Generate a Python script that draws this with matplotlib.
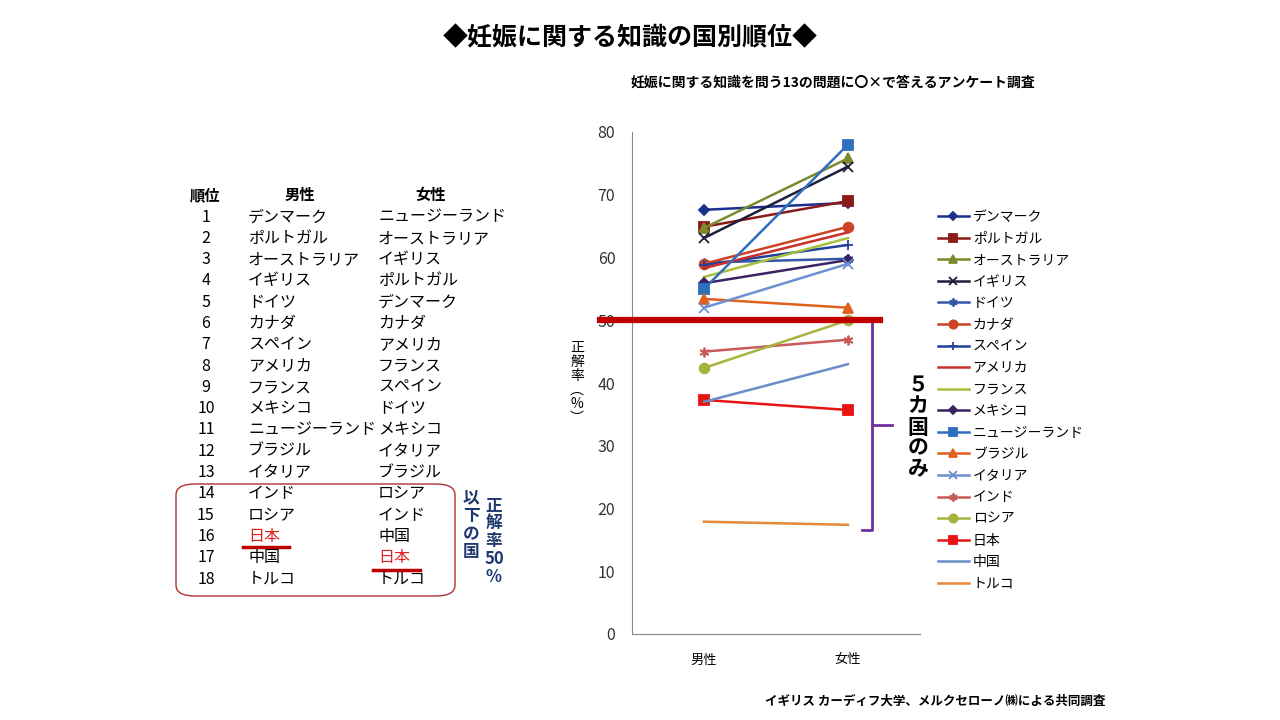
import matplotlib.pyplot as plt
from matplotlib.patches import FancyBboxPatch

plt.rcParams['font.family'] = ['Noto Sans CJK JP', 'DejaVu Sans']

# データ（正解率 %）
countries = ['デンマーク', 'ポルトガル', 'オーストラリア', 'イギリス', 'ドイツ', 'カナダ',
             'スペイン', 'アメリカ', 'フランス', 'メキシコ', 'ニュージーランド', 'ブラジル',
             'イタリア', 'インド', 'ロシア', '日本', '中国', 'トルコ']
male = [67.6, 64.9, 64.7, 63.1, 59.2, 59.0, 58.8, 58.3, 56.9, 55.9, 55.0, 53.4,
        52.0, 45.0, 42.4, 37.3, 37.0, 17.9]
female = [68.7, 69.0, 75.8, 74.5, 59.8, 64.9, 62.0, 64.0, 63.1, 59.6, 78.0, 52.0,
          59.0, 46.9, 50.0, 35.7, 43.0, 17.4]
genders = ['男性', '女性']
threshold = 50

# 順位表
rank_male = ['デンマーク', 'ポルトガル', 'オーストラリア', 'イギリス', 'ドイツ', 'カナダ',
             'スペイン', 'アメリカ', 'フランス', 'メキシコ', 'ニュージーランド', 'ブラジル',
             'イタリア', 'インド', 'ロシア', '日本', '中国', 'トルコ']
rank_female = ['ニュージーランド', 'オーストラリア', 'イギリス', 'ポルトガル', 'デンマーク', 'カナダ',
               'アメリカ', 'フランス', 'スペイン', 'ドイツ', 'メキシコ', 'イタリア',
               'ブラジル', 'ロシア', 'インド', '中国', '日本', 'トルコ']

colors = ['#1c2f8c', '#8b1a1a', '#7a8a2c', '#1e1e3c', '#3356a8', '#cc4426',
          '#22409a', '#c8302a', '#a6c040', '#3c2262', '#2f6fc0', '#e0601e',
          '#6c90d0', '#c85a5a', '#a8b23e', '#e81414', '#6a8cc8', '#e8883a']
markers = ['D', 's', '^', 'x', (6, 2, 0), 'o', '+', None, None, 'D', 's', '^',
           'x', (6, 2, 0), 'o', 's', None, None]


def fx(px):
    return px / 1280


def fy(py):
    return 1 - py / 720


fig = plt.figure(figsize=(12.8, 7.2), dpi=100)
ax = fig.add_axes([fx(632), fy(634), 288 / 1280, 502 / 720])

for i, name in enumerate(countries):
    ms = 5 if markers[i] == 'D' else 7
    ax.plot([0, 1], [male[i], female[i]], color=colors[i], marker=markers[i],
            ms=ms, mew=1.3, lw=1.8, label=name)

ax.set_xlim(-0.5, 1.5)
ax.set_ylim(0, 80)
ax.set_yticks(range(0, 81, 10))
ax.set_xticks([0, 1])
ax.set_xticklabels(genders, fontsize=9.5)
ax.tick_params(axis='y', length=0, pad=12, labelsize=11.5, labelcolor='#333333')
ax.tick_params(axis='x', length=0, pad=14)
for s in ['top', 'right']:
    ax.spines[s].set_visible(False)
for s in ['left', 'bottom']:
    ax.spines[s].set_color('#888888')

# 50% ライン
ax.plot([-0.722, 1.222], [threshold, threshold], color='#c00000', lw=4.5,
        clip_on=False, zorder=5)

# 括弧
ax.plot([1.097, 1.167, 1.167, 1.097], [threshold, threshold, 16.6, 16.6],
        color='#7030a0', lw=2, clip_on=False)
ax.plot([1.167, 1.306], [33.3, 33.3], color='#7030a0', lw=2, clip_on=False)
fig.text(fx(918), fy(427), '５\nカ\n国\nの\nみ', ha='center', va='center',
         fontsize=15, fontweight='bold', linespacing=1.0)

leg = ax.legend(loc='upper left', bbox_to_anchor=(fx(938), fy(210)),
                bbox_transform=fig.transFigure, frameon=False, fontsize=10,
                labelspacing=0.545, handlelength=2.2, handletextpad=0.3,
                borderpad=0, borderaxespad=0, markerscale=0.85)

# 縦軸ラベル
fig.text(fx(577), fy(383), '正\n解\n率\n︵\n%\n︶', ha='center', va='center',
         fontsize=10, linespacing=1.0)

# タイトル
fig.text(fx(630), fy(38), '◆妊娠に関する知識の国別順位◆', ha='center', va='center',
         fontsize=18, fontweight='bold')
fig.text(fx(833), fy(83), '妊娠に関する知識を問う13の問題に〇×で答えるアンケート調査',
         ha='center', va='center', fontsize=10, fontweight='bold')
fig.text(fx(1105), fy(701), 'イギリス カーディフ大学、メルクセローノ㈱による共同調査',
         ha='right', va='center', fontsize=9, fontweight='bold')

# 順位表
fig.text(fx(205), fy(195), '順位', ha='center', va='center', fontsize=11, fontweight='bold')
fig.text(fx(300), fy(195), '男性', ha='center', va='center', fontsize=11, fontweight='bold')
fig.text(fx(431), fy(195), '女性', ha='center', va='center', fontsize=11, fontweight='bold')
for r in range(18):
    y = 217 + r * 21.3
    fig.text(fx(206), fy(y), str(r + 1), ha='center', va='center', fontsize=11.5)
    cm = '#e02020' if rank_male[r] == '日本' else 'black'
    cf = '#e02020' if rank_female[r] == '日本' else 'black'
    fig.text(fx(248), fy(y), rank_male[r], ha='left', va='center', fontsize=11.5, color=cm)
    fig.text(fx(378), fy(y), rank_female[r], ha='left', va='center', fontsize=11.5, color=cf)

# 日本の下線
fig.add_artist(plt.Line2D([fx(243), fx(289)], [fy(547), fy(547)], color='#c00000', lw=2.5))
fig.add_artist(plt.Line2D([fx(373), fx(420)], [fy(570), fy(570)], color='#c00000', lw=2.5))

# 角丸の枠
box = FancyBboxPatch((fx(176), fy(596)), (455 - 176) / 1280, (596 - 484) / 720,
                     boxstyle='round,pad=0,rounding_size=0.015',
                     transform=fig.transFigure, fill=False, ec='#b03030', lw=1)
fig.add_artist(box)

fig.text(fx(494), fy(496), '正\n解\n率\n50\n%', ha='center', va='top', fontsize=12,
         fontweight='bold', color='#1f3870', linespacing=1.0)
fig.text(fx(471), fy(489), '以\n下\nの\n国', ha='center', va='top', fontsize=12,
         fontweight='bold', color='#1f3870', linespacing=1.0)

fig.savefig('out.png', dpi=100)
